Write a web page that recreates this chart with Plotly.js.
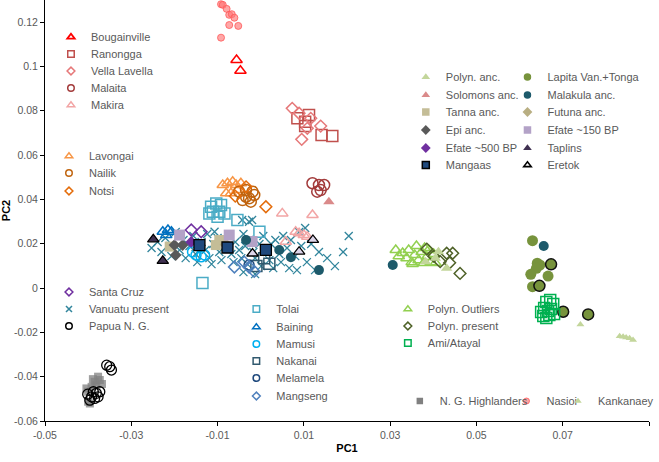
<!DOCTYPE html>
<html><head><meta charset="utf-8">
<script src="https://cdn.plot.ly/plotly-3.0.1.min.js"></script>
<style>body{margin:0;background:#fff}#chart{width:659px;height:462px}</style>
</head><body><div id="chart"></div>
<script>
// ---- data (PC1, PC2) ----
const nasioiX = [-0.0092,-0.0088,-0.0079,-0.0073,-0.0067,-0.0061,-0.0073,-0.0052,-0.0092];
const nasioiY = [0.1281,0.1278,0.1260,0.1233,0.1236,0.1220,0.1187,0.1183,0.1130];
const bougX = [-0.0056,-0.0047];
const bougY = [0.1029,0.0981];
const ranonggaX = [0.0085,0.0103,0.0112,0.0103,0.0141,0.0166];
const ranonggaY = [0.0766,0.0751,0.0781,0.0731,0.0691,0.0686];
const vellaX = [0.0073,0.0089,0.0116,0.0108,0.0139,0.0095];
const vellaY = [0.0811,0.0789,0.0766,0.0721,0.0731,0.0671];
const malaitaX = [0.0120,0.0135,0.0147,0.0131,0.0139];
const malaitaY = [0.0473,0.0465,0.0465,0.0435,0.0442];
const makiraX = [0.0050,0.0120,0.0081,0.0089,0.0100,0.0108,0.0058];
const makiraY = [0.0337,0.0330,0.0254,0.0247,0.0239,0.0232,0.0209];
const solomonsX = [0.0158];
const solomonsY = [0.0390];
const lavongaiX = [-0.0088,-0.0077,-0.0065,-0.0057,-0.0046,-0.0080,-0.0069,-0.0054];
const lavongaiY = [0.0465,0.0473,0.0480,0.0465,0.0473,0.0428,0.0428,0.0442];
const nailikX = [-0.0050,-0.0034,-0.0019,-0.0015,-0.0027,-0.0042,-0.0034,-0.0023];
const nailikY = [0.0435,0.0442,0.0435,0.0420,0.0405,0.0397,0.0412,0.0390];
const notsiX = [-0.0034,0.0012,-0.0059];
const notsiY = [0.0457,0.0367,0.0415];
const tolaiX = [-0.0115,-0.0103,-0.0092,-0.0111,-0.0096,-0.0084,-0.0119,-0.0100,-0.0054,-0.0003,-0.0135];
const tolaiY = [0.0367,0.0382,0.0375,0.0344,0.0344,0.0337,0.0337,0.0322,0.0307,0.0254,0.0023];
const vanuatuX = [-0.0253,-0.0239,-0.0230,-0.0221,-0.0211,-0.0207,-0.0197,-0.0188,-0.0179,-0.0174,-0.0165,-0.0156,-0.0151,-0.0147,-0.0137,-0.0128,-0.0124,-0.0119,-0.0114,-0.0110,-0.0100,-0.0096,-0.0091,-0.0082,-0.0073,-0.0068,-0.0063,-0.0059,-0.0050,-0.0045,-0.0040,-0.0036,-0.0031,-0.0027,-0.0017,-0.0013,-0.0003,0.0001,0.0006,0.0015,0.0020,0.0024,0.0034,0.0043,0.0047,0.0052,0.0061,0.0066,0.0070,0.0080,0.0089,0.0094,0.0103,0.0107,0.0117,0.0126,0.0135,0.0154,0.0172,0.0191,0.0204,0.0084,-0.0040,-0.0013,0.0029,-0.0043,-0.0027,-0.0020,-0.0107];
const vanuatuY = [0.0181,0.0208,0.0163,0.0226,0.0190,0.0144,0.0253,0.0172,0.0217,0.0135,0.0190,0.0235,0.0154,0.0117,0.0208,0.0172,0.0244,0.0135,0.0108,0.0199,0.0226,0.0163,0.0126,0.0190,0.0235,0.0154,0.0117,0.0208,0.0172,0.0135,0.0244,0.0190,0.0108,0.0217,0.0163,0.0135,0.0199,0.0099,0.0235,0.0163,0.0126,0.0199,0.0217,0.0154,0.0117,0.0235,0.0181,0.0090,0.0217,0.0144,0.0253,0.0190,0.0271,0.0117,0.0199,0.0081,0.0163,0.0135,0.0099,0.0163,0.0235,0.0081,0.0072,0.0063,0.0090,0.0307,0.0299,0.0307,0.0254];
const bainingX = [-0.0227,-0.0215,-0.0207,-0.0219];
const bainingY = [0.0254,0.0262,0.0254,0.0239];
const mamusiX = [-0.0150,-0.0138,-0.0130,-0.0158];
const mamusiY = [0.0149,0.0141,0.0149,0.0163];
const nakanaiX = [0.0008,0.0020,-0.0010];
const nakanaiY = [0.0135,0.0110,0.0100];
const melamelaX = [-0.0027];
const melamelaY = [0.0104];
const mangsengX = [-0.0061,-0.0038,-0.0027,-0.0015];
const mangsengY = [0.0095,0.0117,0.0095,0.0075];
const santaCruzX = [-0.0161,-0.0138];
const santaCruzY = [0.0262,0.0254];
const tannaX = [-0.0211,-0.0096,-0.0104];
const tannaY = [0.0187,0.0217,0.0194];
const futunaX = [-0.0080];
const futunaY = [0.0195];
const epiX = [-0.0200,-0.0181,-0.0197];
const epiY = [0.0194,0.0194,0.0149];
const efate150X = [-0.0188,-0.0073,-0.0020];
const efate150Y = [0.0239,0.0239,0.0210];
const efate500X = [-0.0161];
const efate500Y = [0.0208];
const taplinsX = [-0.0249,-0.0227];
const taplinsY = [0.0220,0.0123];
const eretokX = [-0.0019,0.0089,0.0121];
const eretokY = [0.0156,0.0164,0.0217];
const mangaasX = [-0.0142,-0.0077,0.0012];
const mangaasY = [0.0194,0.0183,0.0172];
const malakulaX = [0.0656,0.0306,-0.0034,0.0043,0.0070,0.0135];
const malakulaY = [0.0190,0.0104,0.0217,0.0172,0.0139,0.0081];
const polOutX = [0.0313,0.0320,0.0329,0.0338,0.0343,0.0350,0.0357,0.0361,0.0366,0.0373,0.0378,0.0385,0.0389,0.0394,0.0401,0.0405,0.0352,0.0380];
const polOutY = [0.0172,0.0144,0.0158,0.0135,0.0172,0.0117,0.0149,0.0190,0.0126,0.0163,0.0113,0.0140,0.0172,0.0117,0.0154,0.0113,0.0108,0.0181];
const polPresX = [0.0385,0.0431,0.0445,0.0438,0.0462,0.0416,0.0401];
const polPresY = [0.0176,0.0157,0.0157,0.0114,0.0066,0.0119,0.0144];
const polAncX = [0.0412,0.0431,0.0382,0.0405];
const polAncY = [0.0164,0.0089,0.0119,0.0135];
const lapitaX = [0.0630,0.0641,0.0647,0.0639,0.0626,0.0666,0.0630];
const lapitaY = [0.0214,0.0112,0.0104,0.0089,0.0062,0.0054,0.0006];
const tongaX = [0.0646,0.0673,0.0701,0.0759];
const tongaY = [0.0010,0.0107,-0.0107,-0.0119];
const amiX = [0.0662,0.0671,0.0678,0.0657,0.0666,0.0673,0.0655,0.0662,0.0680,0.0669,0.0650];
const amiY = [-0.0063,-0.0054,-0.0072,-0.0090,-0.0104,-0.0095,-0.0126,-0.0135,-0.0117,-0.0122,-0.0108];
const kankX = [0.0741,0.0832,0.0840,0.0847,0.0855,0.0863];
const kankY = [-0.0164,-0.0217,-0.0220,-0.0223,-0.0227,-0.0235];
const pngX = [-0.0357,-0.0350,-0.0346,-0.0388,-0.0381,-0.0373,-0.0392,-0.0385,-0.0377,-0.0396,-0.0401];
const pngY = [-0.0348,-0.0355,-0.0370,-0.0468,-0.0475,-0.0468,-0.0491,-0.0498,-0.0491,-0.0506,-0.0479];
const ngHighX = [-0.0377,-0.0373,-0.0385,-0.0381,-0.0404,-0.0400,-0.0392,-0.0396,-0.0400,-0.0368,-0.0389];
const ngHighY = [-0.0400,-0.0415,-0.0423,-0.0438,-0.0453,-0.0468,-0.0446,-0.0521,-0.0513,-0.0433,-0.0411];
const xTicks = [-0.05,-0.03,-0.01,0.01,0.03,0.05,0.07,0.09];
const xTickText = ['-0.05','-0.03','-0.01','0.01','0.03','0.05','0.07','0.09'];
const yTicks = [-0.06,-0.04,-0.02,0,0.02,0.04,0.06,0.08,0.1,0.12];
const yTickText = ['-0.06','-0.04','-0.02','0','0.02','0.04','0.06','0.08','0.1','0.12'];

// ---- styling ----
const open = (sym, col, size, w) => ({symbol: sym + '-open', size: size || 10, color: col, line: {color: col, width: w || 1.5}});
const fill = (sym, col, size, lc, lw) => ({symbol: sym, size: size || 10, color: col, line: {color: lc || col, width: lw || 0}});

// [name, xs, ys, plot marker, legend marker]
const series = [
  ['Vanuatu present', vanuatuX, vanuatuY, {symbol:'x-thin-open', size:8, color:'#31859c', line:{color:'#31859c', width:1.3}}, {symbol:'x-thin-open', size:6, color:'#31859c', line:{color:'#31859c', width:1.5}}],
  ['Tolai', tolaiX, tolaiY, open('square', '#4bacc6', 11), open('square', '#4bacc6', 6.5)],
  ['Baining', bainingX, bainingY, open('triangle-up', '#0070c0', 10), open('triangle-up', '#0070c0', 6.5)],
  ['Mamusi', mamusiX, mamusiY, open('circle', '#00b0f0', 10), open('circle', '#00b0f0', 6.5)],
  ['Nakanai', nakanaiX, nakanaiY, open('square', '#31596e', 11), open('square', '#31596e', 6.5)],
  ['Melamela', melamelaX, melamelaY, open('circle', '#1f497d', 10), open('circle', '#1f497d', 6.5)],
  ['Mangseng', mangsengX, mangsengY, open('diamond', '#4f81bd', 9), open('diamond', '#4f81bd', 6)],
  ['Santa Cruz', santaCruzX, santaCruzY, open('diamond', '#7030a0', 9), open('diamond', '#7030a0', 6)],
  ['Tanna anc.', tannaX, tannaY, fill('square', '#c4bd97', 10), fill('square', '#c4bd97', 7.5)],
  ['Futuna anc.', futunaX, futunaY, fill('diamond', '#b8ae82', 10), fill('diamond', '#b8ae82', 7.5)],
  ['Epi anc.', epiX, epiY, fill('diamond', '#595959', 9), fill('diamond', '#595959', 7.5)],
  ['Efate ~150 BP', efate150X, efate150Y, fill('square', '#b3a2c7', 11), fill('square', '#b3a2c7', 7.5)],
  ['Efate ~500 BP', efate500X, efate500Y, fill('diamond', '#7030a0', 9), fill('diamond', '#7030a0', 7.5)],
  ['Lavongai', lavongaiX, lavongaiY, open('triangle-up', '#f79646', 10), open('triangle-up', '#f79646', 6.5)],
  ['Nailik', nailikX, nailikY, open('circle', '#c0640e', 11), open('circle', '#c0640e', 6.5)],
  ['Notsi', notsiX, notsiY, open('diamond', '#e46c0a', 9), open('diamond', '#e46c0a', 6)],
  ['Makira', makiraX, makiraY, open('triangle-up', '#f2a5a5', 10), open('triangle-up', '#f2a5a5', 6.5)],
  ['Malaita', malaitaX, malaitaY, open('circle', '#a33b3b', 11), open('circle', '#a33b3b', 6.5)],
  ['Ranongga', ranonggaX, ranonggaY, open('square', '#c0504d', 11), open('square', '#c0504d', 6.5)],
  ['Vella Lavella', vellaX, vellaY, open('diamond', '#e6797a', 9), open('diamond', '#e6797a', 6)],
  ['Bougainville', bougX, bougY, open('triangle-up', '#ff0000', 10), open('triangle-up', '#ff0000', 6.5, 1.8)],
  ['Nasioi', nasioiX, nasioiY, fill('circle', 'rgba(255,120,120,0.65)', 7, 'rgba(255,90,90,0.8)', 1), fill('circle', 'rgba(255,120,120,0.65)', 6, 'rgba(255,90,90,0.8)', 1)],
  ['Solomons anc.', solomonsX, solomonsY, fill('triangle-up', '#da8a8a', 10), fill('triangle-up', '#da8a8a', 7.5)],
  ['Malakula anc.', malakulaX, malakulaY, fill('circle', '#1d5a6b', 10), fill('circle', '#1d5a6b', 7.5)],
  ['Taplins', taplinsX, taplinsY, fill('triangle-up', '#403151', 10, '#000', 1.2), fill('triangle-up', '#403151', 7.5)],
  ['Eretok', eretokX, eretokY, fill('triangle-up', '#ddd5ea', 10, '#000', 1.3), fill('triangle-up', '#ffffff', 6.5, '#000', 1.6)],
  ['Mangaas', mangaasX, mangaasY, fill('square', '#1f497d', 11, '#000', 1.3), fill('square', '#1f497d', 7, '#000', 1.5)],
  ['Polyn. Outliers', polOutX, polOutY, open('triangle-up', '#92d050', 10), open('triangle-up', '#92d050', 6.5)],
  ['Polyn. present', polPresX, polPresY, open('diamond', '#4f6228', 9), open('diamond', '#4f6228', 6)],
  ['Polyn. anc.', polAncX, polAncY, fill('triangle-up', '#c3d69b', 10), fill('triangle-up', '#c3d69b', 7.5)],
  ['Lapita Van.+Tonga', lapitaX, lapitaY, fill('circle', '#77933c', 11), fill('circle', '#77933c', 7.5)],
  ['', tongaX, tongaY, fill('circle', '#77933c', 11, '#111', 1.5), null],
  ['Ami/Atayal', amiX, amiY, open('square', '#00b050', 11), open('square', '#00b050', 6.5)],
  ['Kankanaey', kankX, kankY, fill('triangle-up', '#c3d69b', 7), fill('triangle-up', '#c3d69b', 6.5)],
  ['N. G. Highlanders', ngHighX, ngHighY, fill('square', 'rgba(128,128,128,0.75)', 8), fill('square', '#808080', 6.5)],
  ['Papua N. G.', pngX, pngY, open('circle', '#000000', 10, 1.3), open('circle', '#000000', 6.5)]
];

// legend text positions in pixels (left edge of text, row centre)
const legendSpots = {
 'Bougainville':[91,37], 'Ranongga':[91,54], 'Vella Lavella':[91,71], 'Malaita':[91,88], 'Makira':[91,105],
 'Lavongai':[89,156], 'Nailik':[89,173], 'Notsi':[89,191],
 'Polyn. anc.':[447,77], 'Solomons anc.':[447,95], 'Tanna anc.':[447,112], 'Epi anc.':[447,130], 'Efate ~500 BP':[447,148], 'Mangaas':[447,165],
 'Lapita Van.+Tonga':[549,77], 'Malakula anc.':[549,95], 'Futuna anc.':[549,112], 'Efate ~150 BP':[549,130], 'Taplins':[549,148], 'Eretok':[549,165],
 'Santa Cruz':[89,292], 'Vanuatu present':[89,309], 'Papua N. G.':[89,326],
 'Tolai':[277,309], 'Baining':[277,327], 'Mamusi':[277,344], 'Nakanai':[277,361], 'Melamela':[277,378], 'Mangseng':[277,396],
 'Polyn. Outliers':[429,309], 'Polyn. present':[429,326], 'Ami/Atayal':[429,343],
 'N. G. Highlanders':[441,401], 'Nasioi':[548,401], 'Kankanaey':[600,401]
};

const PL = 45, PR = 651, PT = 0, PB = 421;
const FONT = 'Liberation Sans, Arial, sans-serif';
const layout = {
  width: 659, height: 462,
  margin: {l: PL, r: 659 - PR, t: PT, b: 462 - PB},
  paper_bgcolor: '#fff', plot_bgcolor: '#fff',
  font: {family: FONT, size: 11, color: '#595959'},
  xaxis: {range: [-0.05, 0.09], tickvals: xTicks, ticktext: xTickText, showgrid: false, zeroline: false,
          showline: true, linecolor: '#000', linewidth: 1, ticks: 'outside', ticklen: 4, tickcolor: '#000',
          tickfont: {size: 10.5, color: '#595959'},
          title: {text: 'PC1', font: {size: 11, color: '#000', family: FONT, weight: 'bold'}, standoff: 4}},
  yaxis: {range: [-0.06, 0.13], tickvals: yTicks, ticktext: yTickText, showgrid: false, zeroline: false,
          showline: true, linecolor: '#000', linewidth: 1, ticks: 'outside', ticklen: 4, tickcolor: '#000',
          tickfont: {size: 10.5, color: '#595959'},
          title: {text: 'PC2', font: {size: 11, color: '#000', family: FONT, weight: 'bold'}, standoff: 8}},
  showlegend: true
};

const traces = [];
const proxies = [];
let k = 1;
series.forEach(([name, xs, ys, marker, legMarker]) => {
  traces.push({type: 'scatter', mode: 'markers', name: name, x: xs, y: ys, marker: marker,
               cliponaxis: false, showlegend: false});
  const spot = legendSpots[name];
  if (!spot || !legMarker) return;
  const lid = k === 1 ? 'legend' : 'legend' + k;
  // legend-only entry (no data) so the key symbol can be drawn at its own small size
  proxies.push({type: 'scatter', mode: 'markers', name: name, x: [null], y: [null], marker: legMarker,
                legend: lid, showlegend: true});
  layout[lid] = {
    x: (spot[0] - 40 - PL) / (PR - PL), xanchor: 'left',
    y: (PB - spot[1]) / (PB - PT), yanchor: 'middle',
    bgcolor: 'rgba(0,0,0,0)', borderwidth: 0, itemwidth: 30,
    font: {family: FONT, size: 11, color: '#595959'}
  };
  k++;
});

Plotly.newPlot('chart', traces.concat(proxies), layout, {displayModeBar: false, staticPlot: true});
</script>
</body></html>
